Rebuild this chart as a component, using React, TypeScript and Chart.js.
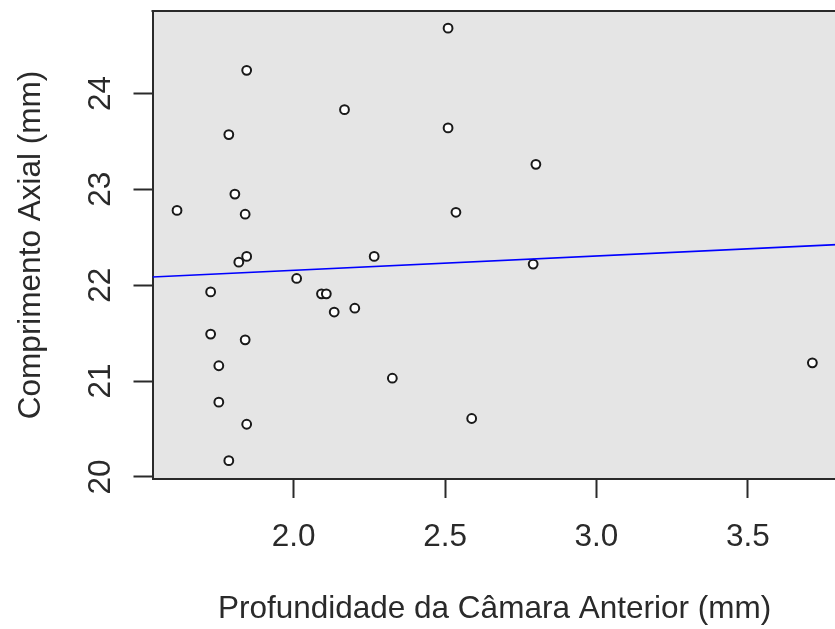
import React, { useEffect, useRef } from "react";
import { Chart, registerables } from "chart.js";

Chart.register(...registerables);

// Anterior chamber depth (mm)
const depthX = [
  1.615, 1.726, 1.726, 1.753, 1.753, 1.786, 1.786, 1.806, 1.819, 1.84,
  1.84, 1.845, 1.845, 1.845, 2.01, 2.092, 2.108, 2.134, 2.168, 2.202,
  2.266, 2.326, 2.51, 2.51, 2.536, 2.588, 2.791, 2.8, 3.713,
];
// Axial length (mm)
const lengthY = [
  22.78, 21.93, 21.49, 21.16, 20.78, 23.57, 20.17, 22.95, 22.24, 22.74,
  21.43, 24.24, 22.3, 20.55, 22.07, 21.91, 21.91, 21.72, 23.83, 21.76,
  22.3, 21.03, 24.68, 23.64, 22.76, 20.61, 22.22, 23.26, 21.19,
];
// Fitted line (read at the two plot edges)
const lineX = [1.534, 3.793];
const lineY = [22.085, 22.423];

const xRange = [1.534, 3.793];
const yRange = [19.979, 24.859];
const xTicks = [2.0, 2.5, 3.0, 3.5];
const yTicks = [20, 21, 22, 23, 24];

const xTitle = "Profundidade da Câmara Anterior (mm)";
const yTitle = "Comprimento Axial (mm)";

const FONT = "'Liberation Sans', Arial, sans-serif";
const TEXT = "#2a2a2a";
const AXIS = "#2a2a2a";

export default function App() {
  const ref = useRef<HTMLCanvasElement | null>(null);

  useEffect(() => {
    if (!ref.current) return;
    const boxPlugin = {
      id: "rbox",
      beforeDraw(chart: any) {
        const { ctx, chartArea } = chart;
        ctx.save();
        ctx.fillStyle = "#e5e5e5";
        ctx.fillRect(chartArea.left, chartArea.top, chartArea.right - chartArea.left, chartArea.bottom - chartArea.top);
        ctx.restore();
      },
      afterDraw(chart: any) {
        const { ctx, chartArea } = chart;
        ctx.save();
        ctx.strokeStyle = AXIS;
        ctx.lineWidth = 2;
        ctx.beginPath();
        ctx.moveTo(chartArea.left - 1, chartArea.top);
        ctx.lineTo(chartArea.right + 1, chartArea.top);
        ctx.stroke();
        ctx.restore();
      },
    };

    const chart = new Chart(ref.current, {
      type: "scatter",
      data: {
        datasets: [
          {
            type: "line",
            label: "fit",
            data: lineX.map((x, i) => ({ x, y: lineY[i] })),
            borderColor: "#0000ff",
            borderWidth: 1.6,
            pointRadius: 0,
            fill: false,
          } as any,
          {
            label: "pontos",
            data: depthX.map((x, i) => ({ x, y: lengthY[i] })),
            pointRadius: 4.4,
            pointBorderWidth: 2,
            pointBorderColor: "#1a1a1a",
            pointBackgroundColor: "#ffffff",
            pointHoverRadius: 4.4,
          },
        ],
      },
      options: {
        animation: false,
        responsive: false,
        devicePixelRatio: 1,
        layout: { padding: { top: 11, right: 1, bottom: 0, left: 0 } },
        plugins: { legend: { display: false }, tooltip: { enabled: false } },
        scales: {
          x: {
            type: "linear",
            min: xRange[0],
            max: xRange[1],
            afterBuildTicks: (s: any) => {
              s.ticks = xTicks.map((v) => ({ value: v }));
            },
            afterFit: (s: any) => {
              s.height = 150;
              s.paddingLeft = 0;
              s.paddingRight = 0;
            },
            grid: {
              drawOnChartArea: false,
              drawTicks: true,
              tickLength: 19,
              tickWidth: 2,
              tickColor: AXIS,
            },
            border: { display: true, color: AXIS, width: 2 },
            ticks: {
              padding: 20.6,
              color: TEXT,
              font: { family: FONT, size: 31.5 },
              maxRotation: 0,
              minRotation: 0,
              callback: (v: any) => Number(v).toFixed(1),
            },
            title: {
              display: true,
              text: xTitle,
              color: TEXT,
              font: { family: FONT, size: 31.5 },
              padding: { top: 0, bottom: 1.1 },
            },
          },
          y: {
            type: "linear",
            min: yRange[0],
            max: yRange[1],
            afterBuildTicks: (s: any) => {
              s.ticks = yTicks.map((v) => ({ value: v }));
            },
            afterFit: (s: any) => {
              s.width = 152.5;
              s.paddingTop = 0;
              s.paddingBottom = 0;
            },
            grid: {
              drawOnChartArea: false,
              drawTicks: true,
              tickLength: 19,
              tickWidth: 2,
              tickColor: AXIS,
            },
            border: { display: true, color: AXIS, width: 2 },
            ticks: {
              padding: 15,
              color: TEXT,
              font: { family: FONT, size: 31.5 },
              minRotation: 90,
              maxRotation: 90,
              crossAlign: "center",
              callback: (v: any) => String(Math.round(Number(v))),
            },
            title: {
              display: true,
              text: yTitle,
              color: TEXT,
              font: { family: FONT, size: 31.5 },
              padding: { top: 12, bottom: 0 },
            },
          },
        },
      },
      plugins: [boxPlugin],
    });
    return () => chart.destroy();
  }, []);

  return (
    <div
      style={{
        position: "fixed",
        left: 0,
        top: 0,
        width: 835,
        height: 629,
        overflow: "hidden",
        background: "#ffffff",
      }}
    >
      <canvas ref={ref} width={843} height={629} style={{ display: "block", width: 843, height: 629 }} />
    </div>
  );
}
